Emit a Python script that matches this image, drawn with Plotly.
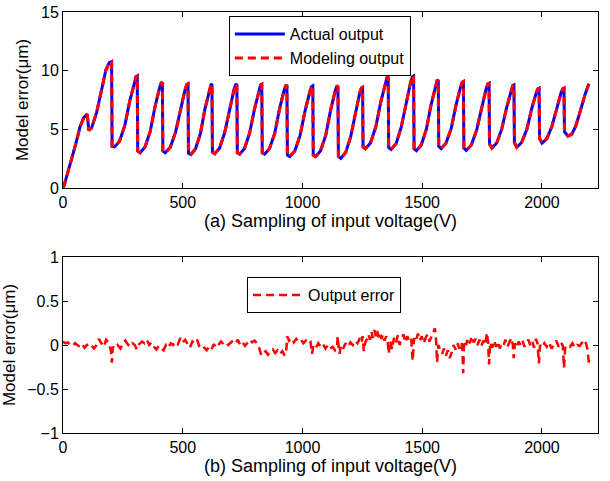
import plotly.graph_objects as go

# ---- top panel: actual / modeling output (vertices) ----
act_x = [0, 6, 15, 36, 54, 71, 87, 101, 108, 119, 140, 161, 179, 193, 203,
         205, 215, 236, 258, 279, 298, 305, 310,
         312, 322, 342, 364, 384, 403, 410, 415,
         417, 427, 448, 470, 491, 510, 517, 522,
         524, 534, 553, 574, 593, 611, 618, 622,
         624, 634, 654, 675, 696, 714, 721, 726,
         728, 738, 758, 779, 800, 818, 825, 830,
         832, 842, 862, 884, 904, 923, 930, 935,
         937, 947, 968, 990, 1011, 1031, 1038, 1043,
         1045, 1055, 1075, 1097, 1117, 1136, 1143, 1148,
         1150, 1160, 1180, 1201, 1221, 1239, 1246, 1251,
         1253, 1263, 1284, 1306, 1327, 1346, 1353, 1358,
         1360, 1370, 1391, 1412, 1433, 1452, 1459, 1464,
         1466, 1476, 1496, 1517, 1537, 1555, 1562, 1567,
         1569, 1579, 1599, 1621, 1641, 1660, 1667, 1672,
         1674, 1684, 1705, 1727, 1748, 1767, 1774, 1779,
         1781, 1791, 1811, 1832, 1853, 1871, 1878, 1883,
         1885, 1895, 1915, 1937, 1957, 1976, 1983, 1988,
         1990, 2000, 2020, 2041, 2062, 2080, 2087, 2092,
         2094, 2108, 2125, 2140, 2155, 2168, 2182, 2196]
act_y = [0, 0.3, 0.96, 2.39, 3.8, 5.2, 6.0, 6.3, 4.9, 5.1, 6.4, 8.35, 10.06, 10.68, 10.77,
         3.55, 3.5, 3.98, 5.32, 7.43, 9.07, 9.49, 9.55,
         3.15, 3.0, 3.48, 4.8, 6.9, 8.52, 8.94, 9.0,
         3.15, 3.0, 3.47, 4.76, 6.82, 8.41, 8.82, 8.88,
         2.95, 2.85, 3.33, 4.65, 6.76, 8.38, 8.8, 8.86,
         3.05, 2.92, 3.4, 4.7, 6.78, 8.38, 8.8, 8.86,
         3.0, 2.88, 3.36, 4.67, 6.75, 8.37, 8.78, 8.84,
         3.0, 2.88, 3.35, 4.65, 6.72, 8.31, 8.72, 8.78,
         2.8, 2.67, 3.15, 4.48, 6.59, 8.22, 8.64, 8.7,
         2.8, 2.67, 3.15, 4.48, 6.59, 8.22, 8.64, 8.7,
         2.7, 2.53, 3.01, 4.35, 6.46, 8.1, 8.52, 8.58,
         3.5, 3.35, 3.84, 5.19, 7.34, 9.0, 9.43, 9.49,
         3.45, 3.28, 3.78, 5.16, 7.36, 9.05, 9.49, 9.55,
         3.35, 3.18, 3.66, 4.99, 7.09, 8.72, 9.14, 9.2,
         3.55, 3.35, 3.81, 5.06, 7.06, 8.6, 9.0, 9.06,
         3.4, 3.2, 3.66, 4.92, 6.92, 8.46, 8.86, 8.92,
         3.75, 3.4, 3.83, 5.01, 6.9, 8.35, 8.73, 8.78,
         3.85, 3.47, 3.88, 5.0, 6.75, 8.1, 8.45, 8.5,
         4.23, 3.82, 4.19, 5.22, 6.86, 8.13, 8.45, 8.5,
         4.8, 4.43, 4.6, 5.23, 6.2, 7.2, 8.1, 8.88]
# modeling output is indistinguishable from the actual output in the picture
model_x = list(act_x)
model_y = list(act_y)

# ---- bottom panel: output error ----
err_x = [0, 10, 20, 30, 40, 50, 60, 70, 80, 90, 100, 110, 120, 130, 140, 150, 160, 170, 180, 190,
         200, 204, 208, 218, 228, 240, 250, 260, 270, 280, 290, 300, 308, 318, 330, 340, 350, 360,
         370, 380, 390, 400, 410, 420, 430, 440, 450, 460, 470, 480, 490, 500, 510, 520, 530, 540,
         550, 560, 570, 580, 590, 600, 610, 620, 630, 640, 650, 660, 670, 680, 690, 700, 710, 720,
         730, 740, 750, 760, 770, 780, 790, 800, 810, 820, 828, 836, 846, 856, 866, 876, 886, 896,
         906, 916, 926, 933, 936, 944, 954, 964, 974, 984, 994, 1004, 1014, 1024, 1034, 1040, 1046,
         1056, 1066, 1076, 1086, 1096, 1106, 1116, 1126, 1136, 1144, 1147, 1151, 1155, 1160, 1170,
         1180, 1190, 1200, 1210, 1220, 1230, 1240, 1248, 1251, 1256, 1262, 1270, 1276, 1282, 1288,
         1294, 1300, 1306, 1312, 1318, 1324, 1330, 1336, 1342, 1350, 1356, 1360, 1366, 1374, 1382,
         1390, 1398, 1406, 1414, 1422, 1430, 1438, 1446, 1454, 1460, 1466, 1474, 1482, 1490, 1498,
         1506, 1514, 1522, 1530, 1538, 1546, 1553, 1558, 1562, 1567, 1575, 1583, 1591, 1599, 1607,
         1615, 1623, 1631, 1639, 1647, 1655, 1663, 1668, 1671, 1675, 1683, 1691, 1699, 1707, 1715,
         1723, 1731, 1739, 1747, 1755, 1763, 1770, 1775, 1779, 1784, 1792, 1800, 1808, 1816, 1824,
         1832, 1840, 1848, 1856, 1864, 1872, 1878, 1882, 1887, 1895, 1903, 1911, 1919, 1927, 1935,
         1943, 1951, 1959, 1967, 1975, 1982, 1987, 1992, 2000, 2010, 2020, 2030, 2040, 2050, 2060,
         2070, 2080, 2087, 2092, 2097, 2107, 2117, 2127, 2137, 2147, 2157, 2167, 2177, 2185, 2190,
         2196]
err_y = [0.04, 0.02, 0.03, 0.0, -0.01, 0.02, 0.0, -0.02, 0.01, -0.03, 0.0, 0.02, -0.01, -0.04, 0.0, 0.07, 0.02, -0.02, 0.06, 0.03,
         -0.06, -0.2, -0.02, -0.04, 0.0, -0.04, 0.02, 0.05, 0.01, -0.02, 0.02, 0.0, -0.05, 0.01, 0.04, 0.02, 0.06, 0.0,
         0.03, -0.02, -0.05, -0.01, -0.04, -0.06, 0.0, -0.03, 0.02, 0.0, 0.04, 0.01, 0.08, 0.03, 0.06, 0.02, -0.03, 0.04,
         0.02, 0.06, -0.02, -0.05, -0.03, -0.06, -0.02, -0.05, 0.01, -0.03, 0.0, 0.04, 0.01, 0.03, 0.0, 0.02, 0.05, 0.02,
         0.06, 0.0, 0.03, -0.01, 0.02, 0.06, 0.03, 0.05, 0.02, -0.04, -0.12, -0.1, -0.07, -0.11, -0.08, -0.05, -0.09, -0.06,
         -0.1, -0.07, -0.12, -0.04, 0.1, 0.05, 0.08, 0.03, 0.07, 0.04, 0.06, 0.02, 0.05, 0.01, 0.03, -0.1, 0.0,
         -0.03, 0.02, -0.02, 0.01, -0.04, 0.0, -0.04, -0.02, -0.06, -0.03, 0.1, -0.02, -0.1, 0.0, -0.04,
         0.02, -0.02, 0.03, 0.0, 0.05, 0.02, 0.08, 0.03, 0.1, -0.07, 0.03, 0.07, 0.12, 0.06, 0.15,
         0.08, 0.17, 0.1, 0.16, 0.09, 0.14, 0.07, 0.12, 0.05, 0.1, 0.03, -0.1, 0.05, -0.05, 0.08,
         0.02, 0.11, 0.0, 0.08, 0.12, 0.03, 0.1, 0.04, 0.07, -0.18, 0.08, 0.04, 0.13, 0.05, 0.1,
         0.02, 0.08, 0.12, 0.04, 0.1, 0.14, 0.19, 0.05, -0.2, 0.0, -0.05, -0.1, -0.04, -0.12, -0.06,
         -0.15, -0.08, 0.0, -0.05, 0.02, -0.04, 0.03, -0.05, -0.32, 0.05, 0.0, 0.08, 0.02, 0.1, 0.03,
         0.07, 0.0, 0.06, -0.01, 0.05, 0.0, 0.14, 0.04, -0.22, 0.03, -0.03, 0.05, -0.02, 0.04, -0.04,
         0.02, 0.0, 0.06, -0.02, 0.03, 0.08, 0.01, -0.15, 0.02, -0.03, 0.04, 0.0, 0.05, -0.02, 0.03,
         0.06, 0.0, 0.05, -0.03, 0.07, 0.01, -0.21, 0.0, -0.03, 0.02, -0.02, 0.03, -0.04, 0.0, 0.05,
         -0.02, 0.03, -0.01, -0.26, -0.03, 0.0, -0.02, 0.02, -0.03, 0.0, -0.01, 0.02, 0.06, 0.01, -0.05,
         -0.2]

x_ticks = [0, 500, 1000, 1500, 2000]
top_y_ticks = [0, 5, 10, 15]
bot_y_ticks = [-1, -0.5, 0, 0.5, 1]

FONT = "Liberation Sans, Arial, sans-serif"

fig = go.Figure()
fig.add_trace(go.Scatter(x=act_x, y=act_y, mode="lines", name="Actual output",
                         line=dict(color="#0000ff", width=3), xaxis="x", yaxis="y",
                         legend="legend"))
fig.add_trace(go.Scatter(x=model_x, y=model_y, mode="lines", name="Modeling output",
                         line=dict(color="#ff0000", width=3, dash="8px,5px"), xaxis="x", yaxis="y",
                         legend="legend"))
fig.add_trace(go.Scatter(x=err_x, y=err_y, mode="lines", name="Output error",
                         line=dict(color="#ff0000", width=2.5, dash="8px,5px"), xaxis="x2", yaxis="y2",
                         legend="legend2"))

axis_common = dict(showline=True, linecolor="black", linewidth=1, mirror="allticks",
                   ticks="inside", ticklen=5, tickcolor="black", tickwidth=1,
                   showgrid=False, zeroline=False, automargin=False,
                   tickfont=dict(family=FONT, size=16, color="black"))

xt_font = dict(family=FONT, size=18, color="black")
yt_font = dict(family=FONT, size=17, color="black")

fig.update_layout(
    width=610, height=481,
    margin=dict(l=63, r=12, t=12, b=48, autoexpand=False),
    paper_bgcolor="white", plot_bgcolor="white",
    font=dict(family=FONT, size=16, color="black"),
    xaxis=dict(domain=[0, 1], range=[0, 2234], tickvals=x_ticks, anchor="y",
               title=dict(text="(a) Sampling of input voltage(V)", standoff=0, font=xt_font),
               **axis_common),
    yaxis=dict(domain=[0.582, 1], range=[0, 15], tickvals=top_y_ticks, anchor="x",
               title=dict(text="Model error(μm)", standoff=8, font=yt_font), **axis_common),
    xaxis2=dict(domain=[0, 1], range=[0, 2234], tickvals=x_ticks, anchor="y2",
                title=dict(text="(b) Sampling of input voltage(V)", standoff=0, font=xt_font),
                **axis_common),
    yaxis2=dict(domain=[0, 0.418], range=[-1, 1], tickvals=bot_y_ticks, anchor="x2",
                title=dict(text="Model error(μm)", standoff=8, font=yt_font), **axis_common),
    legend=dict(x=0.31, y=0.99, xanchor="left", yanchor="top",
                bgcolor="white", bordercolor="black", borderwidth=1, itemwidth=50,
                font=dict(family=FONT, size=16), tracegroupgap=0),
    legend2=dict(x=0.344, y=0.3705, xanchor="left", yanchor="top",
                 bgcolor="white", bordercolor="black", borderwidth=1, itemwidth=50,
                 font=dict(family=FONT, size=16)),
)

fig.write_html("out.html", config={"displayModeBar": False},
               post_script="document.body.style.margin='0';")
